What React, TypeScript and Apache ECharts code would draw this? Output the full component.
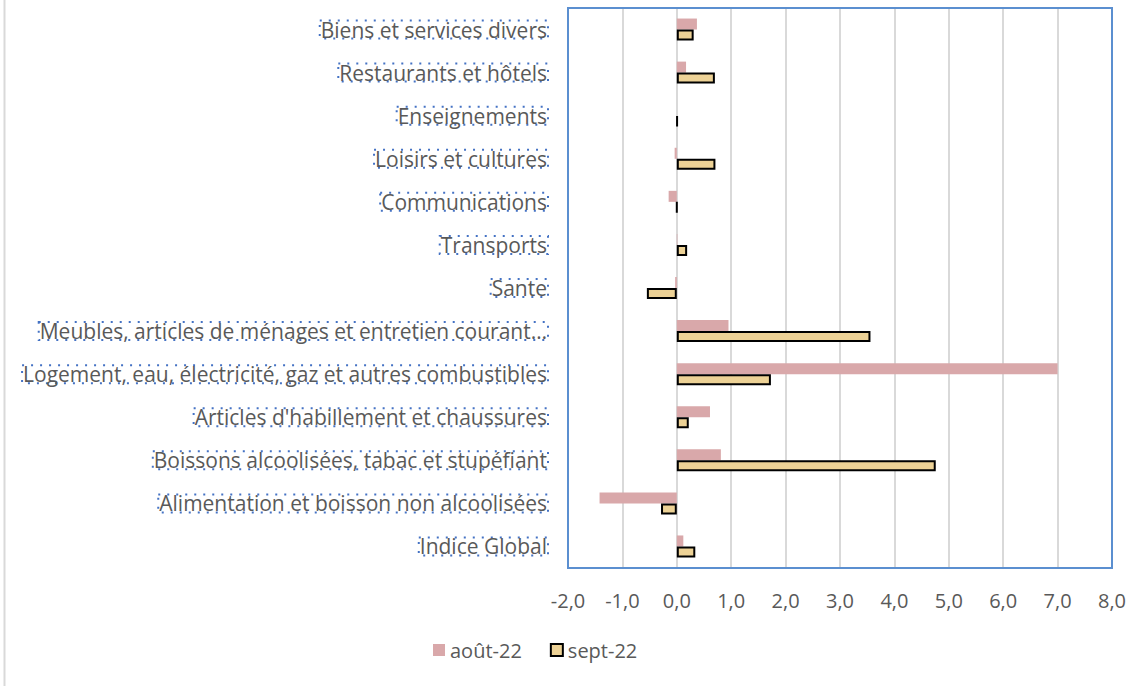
import React, { useEffect, useRef } from "react";
import * as echarts from "echarts";

const categories = [
  "Indice Global",
  "Alimentation et boisson non alcoolisées",
  "Boissons alcoolisées, tabac et stupéfiant",
  "Articles d'habillement et chaussures",
  "Logement, eau, électricité, gaz et autres combustibles",
  "Meubles, articles de ménages et entretien courant…",
  "Sante",
  "Transports",
  "Communications",
  "Loisirs et cultures",
  "Enseignements",
  "Restaurants et hôtels",
  "Biens et services divers",
];

const aout22 = [0.12, -1.42, 0.81, 0.61, 7.0, 0.95, -0.03, 0.01, -0.15, -0.04, 0.0, 0.17, 0.37];
const sept22 = [0.34, -0.29, 4.76, 0.22, 1.73, 3.56, -0.55, 0.19, 0.0, 0.71, 0.01, 0.7, 0.31];

const xTicks = { min: -2, max: 8, interval: 1 };

export default function App() {
  const ref = useRef<HTMLDivElement>(null);
  useEffect(() => {
    document.body.style.margin = "0";
    const chart = echarts.init(ref.current!, undefined, { renderer: "svg" });
    const font = "'Open Sans', 'Noto Sans', sans-serif";
    chart.setOption({
      animation: false,
      backgroundColor: "#ffffff",
      textStyle: { fontFamily: font },
      grid: {
        left: 568,
        right: 30,
        top: 8,
        bottom: 120,
        show: false,
        containLabel: false,
      },
      legend: {
        data: ["août-22", "sept-22"],
        left: 428,
        top: 635,
        icon: "rect",
        itemWidth: 12,
        itemHeight: 12,
        itemGap: 28,
        textStyle: { fontSize: 20, color: "#595959", fontFamily: font },
      },
      xAxis: {
        type: "value",
        min: xTicks.min,
        max: xTicks.max,
        interval: xTicks.interval,
        axisLine: { show: false },
        axisTick: { show: false },
        splitLine: {
          show: true,
          showMinLine: false,
          showMaxLine: false,
          lineStyle: { color: "#D9D9D9", width: 2 },
        },
        axisLabel: {
          color: "#595959",
          fontSize: 20,
          margin: 22,
          formatter: (v: number) => v.toFixed(1).replace(".", ","),
        },
      },
      yAxis: {
        type: "category",
        data: categories,
        axisLine: { show: false },
        axisTick: { show: false },
        splitLine: { show: false },
        axisLabel: {
          color: "#595959",
          fontSize: 21,
          margin: 20,
          borderColor: "#4472C4",
          borderWidth: 2,
          borderType: [2, 7],
          padding: [-1, 1, -2, 1],
          interval: 0,
        },
      },
      series: [
        {
          name: "août-22",
          type: "bar",
          data: aout22,
          barWidth: 11,
          barGap: "0%",
          itemStyle: { color: "#D9A8AA" },
        },
        {
          name: "sept-22",
          type: "bar",
          data: sept22,
          barWidth: 11,
          barGap: "0%",
          itemStyle: { color: "#EDD296", borderColor: "#000000", borderWidth: 2 },
        },
      ],
      graphic: [
        {
          type: "line",
          shape: { x1: 4.5, y1: 0, x2: 4.5, y2: 686 },
          style: { stroke: "#D9D9D9", lineWidth: 2 },
        },
        {
          type: "rect",
          z: 100,
          shape: { x: 568, y: 8, width: 544, height: 560 },
          style: { fill: null, stroke: "#5B8FD0", lineWidth: 2 },
        },
      ],
    });
    return () => chart.dispose();
  }, []);
  return <div ref={ref} style={{ width: 1142, height: 688 }} />;
}
